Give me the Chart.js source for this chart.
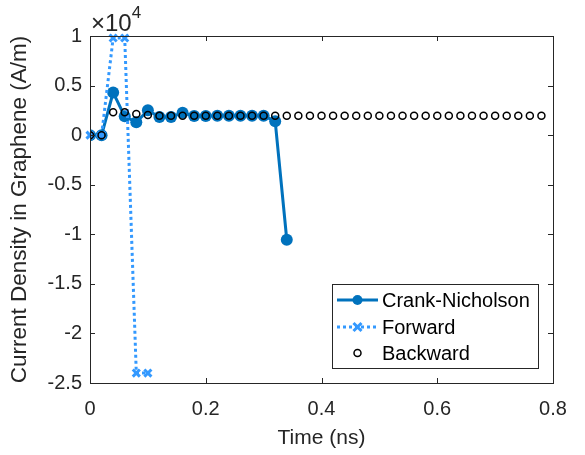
<!DOCTYPE html>
<html>
<head>
<meta charset="utf-8">
<script src="https://cdn.jsdelivr.net/npm/chart.js@4/dist/chart.umd.min.js"></script>
<style>
  html, body { margin: 0; padding: 0; background: #fff; }
  #wrap { width: 585px; height: 455px; }
</style>
</head>
<body>
<div id="wrap"><canvas id="cv" width="585" height="455"></canvas></div>
<script>
// time axis (ns) and values (A/m)
const timeCN = [0, 0.02, 0.04, 0.06, 0.08, 0.10, 0.12, 0.14, 0.16, 0.18, 0.20, 0.22, 0.24, 0.26, 0.28, 0.30, 0.32, 0.34];
const crankNicholson = [0, 0, 4300, 1900, 1300, 2500, 1830, 1830, 2250, 1930, 1930, 1950, 1950, 1950, 1950, 1950, 1400, -10550];

const timeFwd = [0, 0.02, 0.04, 0.06, 0.08, 0.10];
const forward = [0, 0, 9800, 9800, -24000, -24000];

const timeBwd = [0, 0.02, 0.04, 0.06, 0.08, 0.10, 0.12, 0.14, 0.16, 0.18,
  0.20, 0.22, 0.24, 0.26, 0.28, 0.30, 0.32, 0.34, 0.36, 0.38,
  0.40, 0.42, 0.44, 0.46, 0.48, 0.50, 0.52, 0.54, 0.56, 0.58,
  0.60, 0.62, 0.64, 0.66, 0.68, 0.70, 0.72, 0.74, 0.76, 0.78];
const backward = [0, 0, 2300, 2300, 2130, 2030, 1950, 1950, 1950, 1950,
  1950, 1950, 1950, 1950, 1950, 1950, 1950, 1950, 1950, 1950,
  1950, 1950, 1950, 1950, 1950, 1950, 1950, 1950, 1950, 1950,
  1950, 1950, 1950, 1950, 1950, 1950, 1950, 1950, 1950, 1950];

const xTicks = [0, 0.2, 0.4, 0.6, 0.8];
const yTicks = [-25000, -20000, -15000, -10000, -5000, 0, 5000, 10000];

const seriesNames = ["Crank-Nicholson", "Forward", "Backward"];

const pts = (xs, ys) => xs.map((x, i) => ({ x: x, y: ys[i] }));

const TEXT = "#262626";
const FONT = "'Liberation Sans', Arial, sans-serif";
const CN_COLOR = "#0072BD";
const FWD_COLOR = "#3399FF";

// MATLAB style box with inward ticks, exponent and legend
const matlabBox = {
  id: "matlabBox",
  afterDraw(chart) {
    const { ctx, chartArea: a, scales } = chart;
    ctx.save();
    ctx.strokeStyle = TEXT;
    ctx.lineWidth = 1;
    ctx.strokeRect(a.left + 0.5, a.top + 0.5, a.right - a.left, a.bottom - a.top);
    ctx.beginPath();
    xTicks.forEach(v => {
      const px = Math.round(scales.x.getPixelForValue(v)) + 0.5;
      ctx.moveTo(px, a.bottom); ctx.lineTo(px, a.bottom - 5);
      ctx.moveTo(px, a.top); ctx.lineTo(px, a.top + 5);
    });
    yTicks.forEach(v => {
      const py = Math.round(scales.y.getPixelForValue(v)) + 0.5;
      ctx.moveTo(a.left, py); ctx.lineTo(a.left + 5, py);
      ctx.moveTo(a.right, py); ctx.lineTo(a.right - 5, py);
    });
    ctx.stroke();

    // x10^4
    ctx.fillStyle = TEXT;
    ctx.textBaseline = "alphabetic";
    ctx.textAlign = "left";
    ctx.font = "24px " + FONT;
    ctx.fillText("\u00d710", a.left + 1, 31);
    const w = ctx.measureText("\u00d710").width;
    ctx.font = "17px " + FONT;
    ctx.fillText("4", a.left + 1 + w, 18);

    // legend
    const lx = 332, ly = 284, lw = 206, lh = 84;
    ctx.fillStyle = "#fff";
    ctx.fillRect(lx, ly, lw, lh);
    ctx.strokeStyle = TEXT;
    ctx.strokeRect(lx + 0.5, ly + 0.5, lw, lh);
    const rows = [300, 327, 353];
    const sx0 = 337, sx1 = 378, sxm = (sx0 + sx1) / 2;
    // CN
    ctx.strokeStyle = CN_COLOR; ctx.lineWidth = 3; ctx.setLineDash([]);
    ctx.beginPath(); ctx.moveTo(sx0, rows[0]); ctx.lineTo(sx1, rows[0]); ctx.stroke();
    ctx.fillStyle = CN_COLOR;
    ctx.beginPath(); ctx.arc(sxm, rows[0], 5, 0, Math.PI * 2); ctx.fill();
    // Forward
    ctx.strokeStyle = FWD_COLOR; ctx.setLineDash([3, 3]);
    ctx.beginPath(); ctx.moveTo(sx0, rows[1]); ctx.lineTo(sx1, rows[1]); ctx.stroke();
    ctx.setLineDash([]);
    ctx.beginPath();
    ctx.moveTo(sxm - 4, rows[1] - 4); ctx.lineTo(sxm + 4, rows[1] + 4);
    ctx.moveTo(sxm - 4, rows[1] + 4); ctx.lineTo(sxm + 4, rows[1] - 4);
    ctx.stroke();
    // Backward
    ctx.strokeStyle = "#000"; ctx.lineWidth = 1.5;
    ctx.beginPath(); ctx.arc(sxm, rows[2], 3.5, 0, Math.PI * 2); ctx.stroke();

    ctx.fillStyle = "#000";
    ctx.font = "20px " + FONT;
    ctx.textBaseline = "middle";
    seriesNames.forEach((n, i) => ctx.fillText(n, 382, rows[i] + 1));
    ctx.restore();
  }
};

new Chart(document.getElementById("cv"), {
  type: "scatter",
  data: {
    datasets: [
      {
        label: seriesNames[0],
        data: pts(timeCN, crankNicholson),
        showLine: true,
        borderColor: CN_COLOR,
        backgroundColor: CN_COLOR,
        borderWidth: 3,
        pointRadius: 6,
        pointBorderWidth: 0,
        order: 3
      },
      {
        label: seriesNames[1],
        data: pts(timeFwd, forward),
        showLine: true,
        borderColor: FWD_COLOR,
        backgroundColor: FWD_COLOR,
        borderWidth: 3,
        borderDash: [3, 3],
        pointStyle: "crossRot",
        pointRadius: 5,
        pointBorderWidth: 3,
        clip: false,
        order: 2
      },
      {
        label: seriesNames[2],
        data: pts(timeBwd, backward),
        showLine: false,
        borderColor: "#000",
        backgroundColor: "rgba(0,0,0,0)",
        pointRadius: 3.5,
        pointBorderWidth: 1.5,
        order: 1
      }
    ]
  },
  options: {
    responsive: false,
    animation: false,
    events: [],
    layout: { padding: { top: 36, right: 32, left: 0, bottom: 0 } },
    plugins: { legend: { display: false }, tooltip: { enabled: false } },
    scales: {
      x: {
        type: "linear",
        min: 0, max: 0.8,
        grid: { display: false, drawTicks: false },
        border: { display: false },
        afterBuildTicks: s => { s.ticks = xTicks.map(v => ({ value: v })); },
        afterFit: s => { s.height = 72; },
        ticks: {
          color: TEXT, padding: 14, maxRotation: 0,
          font: { family: FONT, size: 20 },
          callback: v => String(v)
        },
        title: {
          display: true, text: "Time (ns)", color: TEXT,
          font: { family: FONT, size: 21 }, padding: { top: 4 }
        }
      },
      y: {
        type: "linear",
        min: -25000, max: 10000,
        grid: { display: false, drawTicks: false },
        border: { display: false },
        afterBuildTicks: s => { s.ticks = yTicks.map(v => ({ value: v })); },
        afterFit: s => { s.width = 90; },
        ticks: {
          color: TEXT, padding: 8,
          font: { family: FONT, size: 20 },
          callback: v => String(v / 10000)
        },
        title: {
          display: true, text: "Current Density in Graphene (A/m)", color: TEXT,
          font: { family: FONT, size: 22.5 }, padding: { top: 6, bottom: 0 }
        }
      }
    }
  },
  plugins: [matlabBox]
});
</script>
</body>
</html>
